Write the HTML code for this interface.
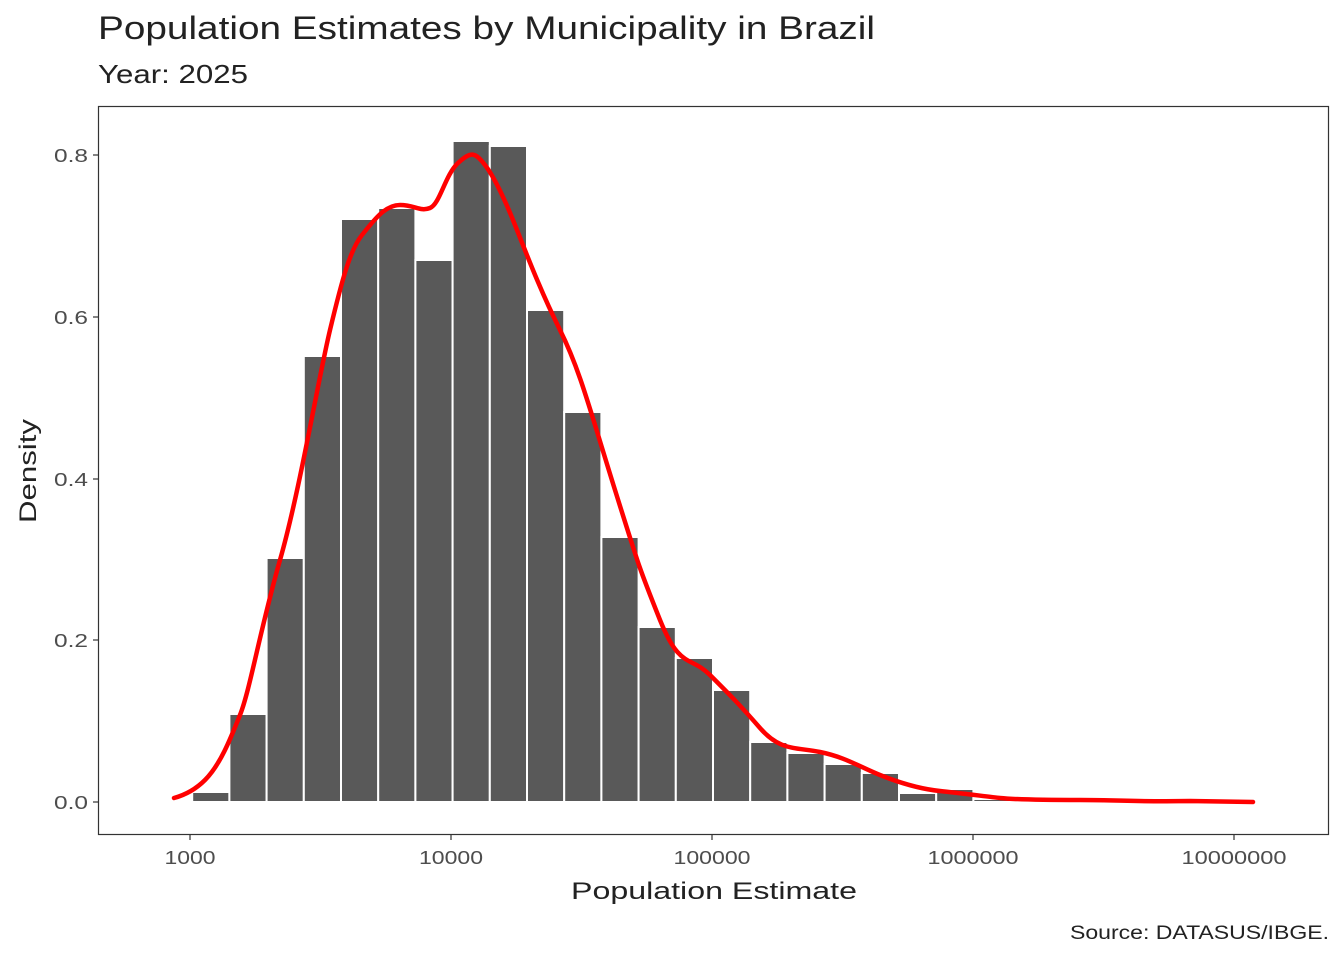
<!DOCTYPE html>
<html><head><meta charset="utf-8"><style>
body{margin:0;background:#fff;}
svg{display:block;font-family:"Liberation Sans",sans-serif;}
</style></head><body>
<svg width="1344" height="960" viewBox="0 0 1344 960">
<rect width="1344" height="960" fill="#fff"/>
<text x="98" y="39" font-size="32" fill="#222" textLength="777" lengthAdjust="spacingAndGlyphs">Population Estimates by Municipality in Brazil</text>
<text x="98" y="83" font-size="26" fill="#222" textLength="150" lengthAdjust="spacingAndGlyphs">Year: 2025</text>
<g fill="#595959" stroke="#fff" stroke-width="2">
<rect x="155" y="801" width="37.2" height="1"/>
<rect x="192.2" y="792" width="37.2" height="10"/>
<rect x="229.4" y="714" width="37.2" height="88"/>
<rect x="266.6" y="558" width="37.2" height="244"/>
<rect x="303.8" y="356" width="37.2" height="446"/>
<rect x="341" y="219" width="37.2" height="583"/>
<rect x="378.2" y="208" width="37.2" height="594"/>
<rect x="415.4" y="260" width="37.2" height="542"/>
<rect x="452.6" y="141" width="37.2" height="661"/>
<rect x="489.8" y="146" width="37.2" height="656"/>
<rect x="527" y="310" width="37.2" height="492"/>
<rect x="564.2" y="412" width="37.2" height="390"/>
<rect x="601.4" y="537" width="37.2" height="265"/>
<rect x="638.6" y="627" width="37.2" height="175"/>
<rect x="675.8" y="658" width="37.2" height="144"/>
<rect x="713" y="690" width="37.2" height="112"/>
<rect x="750.2" y="742" width="37.2" height="60"/>
<rect x="787.4" y="753" width="37.2" height="49"/>
<rect x="824.6" y="764" width="37.2" height="38"/>
<rect x="861.8" y="773" width="37.2" height="29"/>
<rect x="899" y="793" width="37.2" height="9"/>
<rect x="936.2" y="789" width="37.2" height="13"/>
<rect x="973.4" y="799" width="37.2" height="3"/>
</g>
<path d="M174,798 C185,795 195,790 205,780 C220,765 230,740 240,715 S260,630 280,560 S318,380 330,330 S350,250 362,235 S385,205 400,205 S420,212 430,208 S445,175 458,163 S475,152 485,165 S505,200 515,225 S540,290 560,330 S590,410 615,490 S640,570 660,620 S690,655 710,675 S740,705 760,728 S795,747 820,752 S860,767 880,775 S920,789 940,791 S990,797 1000,798 S1040,800 1080,800 S1140,802 1190,801 L1253,802" fill="none" stroke="#ff0000" stroke-width="4.5" stroke-linejoin="round" stroke-linecap="round"/>
<rect x="98.5" y="106.5" width="1230" height="728" fill="none" stroke="#333" stroke-width="1.2"/>
<g stroke="#333" stroke-width="1.2">
<line x1="93" y1="802" x2="98" y2="802"/><line x1="93" y1="640" x2="98" y2="640"/><line x1="93" y1="479" x2="98" y2="479"/><line x1="93" y1="317" x2="98" y2="317"/><line x1="93" y1="155" x2="98" y2="155"/>
<line x1="190" y1="835" x2="190" y2="840"/><line x1="451" y1="835" x2="451" y2="840"/><line x1="712" y1="835" x2="712" y2="840"/><line x1="973" y1="835" x2="973" y2="840"/><line x1="1234" y1="835" x2="1234" y2="840"/>
</g>
<g font-size="18" fill="#4d4d4d" text-anchor="end">
<text x="88" y="809" textLength="34" lengthAdjust="spacingAndGlyphs">0.0</text><text x="88" y="647" textLength="34" lengthAdjust="spacingAndGlyphs">0.2</text><text x="88" y="486" textLength="34" lengthAdjust="spacingAndGlyphs">0.4</text><text x="88" y="324" textLength="34" lengthAdjust="spacingAndGlyphs">0.6</text><text x="88" y="162" textLength="34" lengthAdjust="spacingAndGlyphs">0.8</text>
</g>
<g font-size="18" fill="#4d4d4d" text-anchor="middle">
<text x="190" y="864" textLength="51" lengthAdjust="spacingAndGlyphs">1000</text><text x="451" y="864" textLength="64" lengthAdjust="spacingAndGlyphs">10000</text><text x="712" y="864" textLength="77" lengthAdjust="spacingAndGlyphs">100000</text><text x="973" y="864" textLength="91" lengthAdjust="spacingAndGlyphs">1000000</text><text x="1234" y="864" textLength="105" lengthAdjust="spacingAndGlyphs">10000000</text>
</g>
<text x="714" y="899" font-size="24" fill="#222" text-anchor="middle" textLength="286" lengthAdjust="spacingAndGlyphs">Population Estimate</text>
<text transform="translate(36,471) rotate(-90)" font-size="24" fill="#222" text-anchor="middle" textLength="104" lengthAdjust="spacingAndGlyphs">Density</text>
<text x="1329" y="939" font-size="19" fill="#222" text-anchor="end" textLength="259" lengthAdjust="spacingAndGlyphs">Source: DATASUS/IBGE.</text>
</svg>
</body></html>
